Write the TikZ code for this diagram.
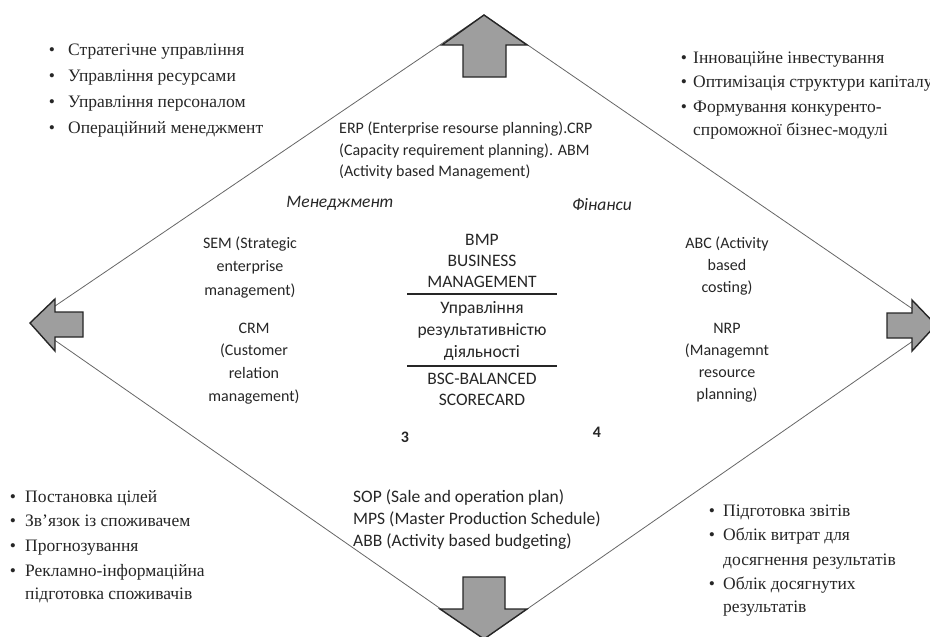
\documentclass[tikz,border=0pt]{standalone}
\usepackage{fontspec}
\setmainfont{Liberation Serif}
\newfontfamily\calib{Carlito}
\begin{document}
\begin{tikzpicture}[x=1pt,y=-1pt,
  edge/.style={draw=black!60, line width=0.8pt},
  bigarrow/.style={draw=black!85, line width=1.4pt, fill=black!38, line join=miter},
  ser/.style={font=\fontsize{17.5}{20}\selectfont, text=black!85, inner sep=0pt, anchor=base west},
  bul/.style={font=\fontsize{17.5}{20}\selectfont, text=black!85, inner sep=0pt, anchor=base},
  sans/.style={font=\calib\fontsize{16}{19}\selectfont, text=black!85, inner sep=0pt, anchor=base},
  sansb/.style={font=\calib\fontsize{17.5}{20}\selectfont, text=black!85, inner sep=0pt, anchor=base},
  sansl/.style={font=\calib\fontsize{16}{19}\selectfont, text=black!85, inner sep=0pt, anchor=base west},
  sepline/.style={draw=black!85, line width=1.5pt}]
\useasboundingbox (0,0) rectangle (930,637);
% diamond
\coordinate (T) at (484,15);
\coordinate (L) at (30,323);
\coordinate (B) at (484,639);
\coordinate (R) at (936,325);
\draw[edge] (T) -- (L) -- (B) -- (R) -- cycle;
% arrows
\draw[bigarrow] (T) -- (527,45) -- (506,45) -- (506,77) -- (463,77) -- (463,45) -- (442,45) -- cycle;
\draw[bigarrow] (B) -- (527,609) -- (505,609) -- (505,577) -- (463,577) -- (463,609) -- (440,609) -- cycle;
\draw[bigarrow] (L) -- (55,299) -- (55,312) -- (83,312) -- (83,337) -- (55,337) -- (55,351) -- cycle;
\draw[bigarrow] (R) -- (912,300) -- (912,313) -- (887,313) -- (887,338) -- (912,338) -- (912,351) -- cycle;
% top-left list
\foreach \t [count=\i] in {{Стратегічне управління},{Управління ресурсами},{Управління персоналом},{Операційний менеджмент}}{
  \node[bul] (tlb\i) at (52,55+26*\i-26) {\textbullet};
  \node[ser] (tl\i) at (68,55+26*\i-26) {\t};
}
% top-right list
\foreach \t [count=\i] in {{Інноваційне інвестування},{Оптимізація структури капіталу},{Формування конкуренто-}}{
  \node[bul] (trb\i) at (684,63+24.5*\i-24.5) {\textbullet};
  \node[ser] (tr\i) at (693,63+24.5*\i-24.5) {\t};
}
\node[ser] (tr4) at (693,135) {спроможної бізнес-модулі};
% bottom-left list
\foreach \t [count=\i] in {{Постановка цілей},{Зв'язок із споживачем},{Прогнозування},{Рекламно-інформаційна}}{
  \node[bul] (blb\i) at (13,502+24.7*\i-24.7) {\textbullet};
  \node[ser] (bl\i) at (25,502+24.7*\i-24.7) {\t};
}
\node[ser] (bl5) at (25,599) {підготовка споживачів};
% bottom-right list
\node[bul] (brb1) at (712,516) {\textbullet};
\node[ser] (br1) at (723,516) {Підготовка звітів};
\node[bul] (brb2) at (712,540) {\textbullet};
\node[ser] (br2) at (723,540) {Облік витрат для};
\node[ser] (br3) at (723,565) {досягнення результатів};
\node[bul] (brb4) at (712,589) {\textbullet};
\node[ser] (br4) at (723,589) {Облік досягнутих};
\node[ser] (br5) at (723,612) {результатів};
% top centre
\node[sansl] (erp1) at (339,133) {ERP (Enterprise resourse planning).CRP};
\node[sansl] (erp2) at (339,155) {(Capacity requirement planning). ABM};
\node[sansl] (erp3) at (339,176) {(Activity based Management)};
\node[sansb] (men) at (340,207) {\itshape Менеджмент};
\node[sansb] (fin) at (602,210) {\itshape Фінанси};
% left blocks
\foreach \t [count=\i] in {{SEM (Strategic},{enterprise},{management)}}{
  \node[sans] (sem\i) at (250,248+23.5*\i-23.5) {\t};
}
\foreach \t [count=\i] in {{CRM},{(Customer},{relation},{management)}}{
  \node[sans] (crm\i) at (254,333+22.7*\i-22.7) {\t};
}
% right blocks
\foreach \t [count=\i] in {{ABC (Activity},{based},{costing)}}{
  \node[sans] (abc\i) at (727,248+22*\i-22) {\t};
}
\foreach \t [count=\i] in {{NRP},{(Managemnt},{resource},{planning)}}{
  \node[sans] (nrp\i) at (727,333+22.3*\i-22.3) {\t};
}
% centre block
\foreach \t [count=\i] in {{BMP},{BUSINESS},{MANAGEMENT}}{
  \node[sansb] (bmp\i) at (482,245+21*\i-21) {\t};
}
\coordinate (s1a) at (407,294); \coordinate (s1b) at (557,294);
\draw[sepline] (s1a) -- (s1b);
\foreach \t [count=\i] in {{Управління},{результативністю},{діяльності}}{
  \node[sansb] (upr\i) at (482,313+22*\i-22) {\t};
}
\coordinate (s2a) at (407,366); \coordinate (s2b) at (557,366);
\draw[sepline] (s2a) -- (s2b);
\node[sansb] (bsc1) at (482,384) {BSC-BALANCED};
\node[sansb] (bsc2) at (482,405) {SCORECARD};
% numbers
\node[sans] (n3) at (405,442) {\bfseries 3};
\node[sans] (n4) at (597,437) {\bfseries 4};
% bottom centre
\node[sansl, font=\calib\fontsize{17.5}{20}\selectfont] (sop) at (353,502) {SOP (Sale and operation plan)};
\node[sansl, font=\calib\fontsize{17.5}{20}\selectfont] (mps) at (353,524) {MPS (Master Production Schedule)};
\node[sansl, font=\calib\fontsize{17.5}{20}\selectfont] (abb) at (353,546) {ABB (Activity based budgeting)};
\end{tikzpicture}
\end{document}
